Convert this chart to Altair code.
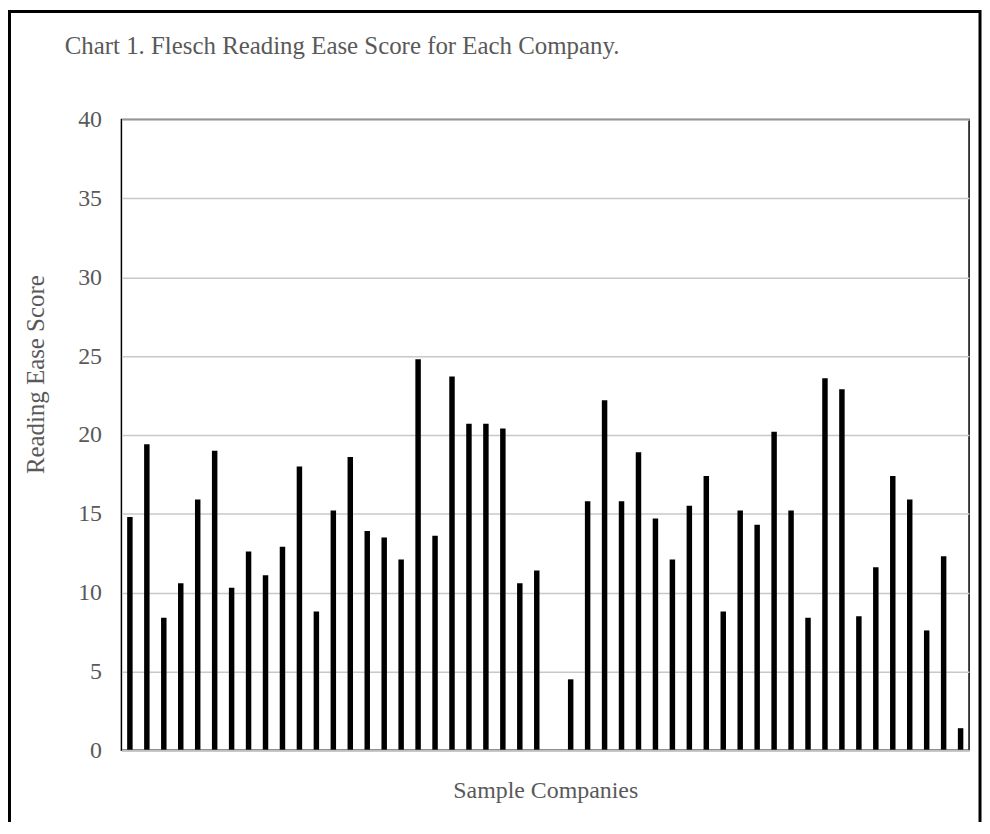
import altair as alt
import pandas as pd

companies = [f"Company {i}" for i in range(1, 51)]
scores = [14.8, 19.4, 8.4, 10.6, 15.9, 19.0, 10.3, 12.6, 11.1, 12.9,
          18.0, 8.8, 15.2, 18.6, 13.9, 13.5, 12.1, 24.8, 13.6, 23.7,
          20.7, 20.7, 20.4, 10.6, 11.4, 0.0, 4.5, 15.8, 22.2, 15.8,
          18.9, 14.7, 12.1, 15.5, 17.4, 8.8, 15.2, 14.3, 20.2, 15.2,
          8.4, 23.6, 22.9, 8.5, 11.6, 17.4, 15.9, 7.6, 12.3, 1.4]
y_ticks = [0, 5, 10, 15, 20, 25, 30, 35, 40]
chart_title = "Chart 1. Flesch Reading Ease Score for Each Company."

df = pd.DataFrame({"company": companies, "score": scores})

FONT = "Liberation Serif"
GREY = "#595959"

bars = alt.Chart(df).mark_bar(size=5.5, color="black").encode(
    x=alt.X(
        "company:N",
        sort=companies,
        scale=alt.Scale(paddingInner=0, paddingOuter=0),
        axis=alt.Axis(
            title="Sample Companies",
            labels=False,
            ticks=False,
            domainColor="#bfbfbf",
            domainWidth=2,
            titleFont=FONT,
            titleFontSize=24,
            titleFontWeight="normal",
            titleColor=GREY,
            titleBaseline="alphabetic",
            titleY=47,
            zindex=1,
        ),
    ),
    y=alt.Y(
        "score:Q",
        scale=alt.Scale(domain=[0, 40]),
        axis=alt.Axis(
            values=y_ticks,
            grid=True,
            gridColor="#c8c8c8",
            gridWidth=1.5,
            domain=False,
            ticks=False,
            tickSize=0,
            labelPadding=20,
            labelFont=FONT,
            labelFontSize=24,
            labelColor=GREY,
            title="Reading Ease Score",
            titleFont=FONT,
            titleFontSize=25,
            titleFontWeight="normal",
            titleColor=GREY,
            titleAngle=270,
            titleBaseline="middle",
            titleAlign="center",
            titleX=-86,
            titleY=256,
        ),
    ),
)

frame = alt.Data(values=[{"k": 1}])

border = alt.Chart(frame).mark_rect(
    fill=None, stroke="black", strokeWidth=3
).encode(
    x=alt.value(-112.5), x2=alt.value(863),
    y=alt.value(-108.5), y2=alt.value(760),
)

title = alt.Chart(frame).mark_text(
    align="left", baseline="alphabetic", font=FONT, fontSize=25, color=GREY
).encode(
    x=alt.value(-57), y=alt.value(-66), text=alt.value(chart_title)
)

chart = alt.layer(bars, border, title).properties(
    width=852,
    height=634,
    padding={"left": 114, "top": 110, "right": 13, "bottom": 70},
    autosize=alt.AutoSizeParams(type="none"),
).configure_view(stroke="black", strokeWidth=1.5)

chart.save("out.html", embed_options={"renderer": "svg", "actions": False})
